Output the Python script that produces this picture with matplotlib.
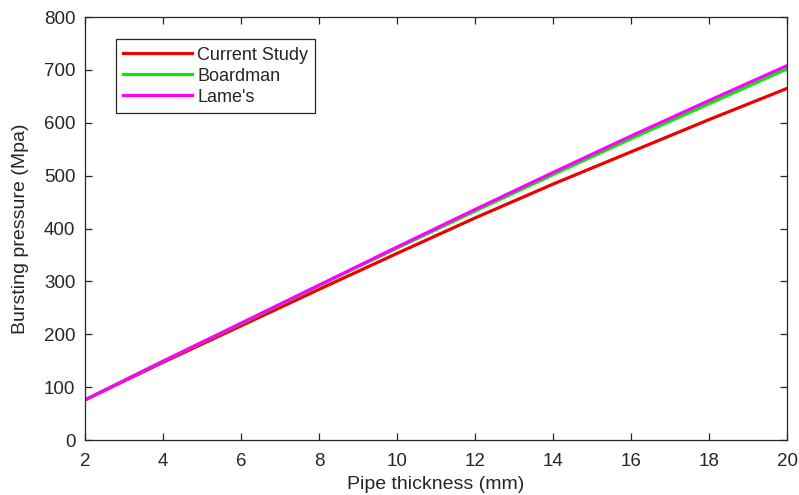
import matplotlib
matplotlib.use("Agg")
import matplotlib.pyplot as plt

plt.rcParams['font.family'] = ['Liberation Sans', 'DejaVu Sans']

# pipe wall thickness (mm)
thickness = [2, 4, 6, 8, 10, 12, 14, 16, 18, 20]

# bursting pressure (MPa) for each method
current_study = [76, 147, 216, 285, 353, 420, 484, 545, 606, 665]
boardman = [76, 149, 220, 292, 363, 433, 502, 570, 636, 702]
lames = [76, 149, 221, 293, 365, 436, 506, 575, 642, 708]

fig = plt.figure(figsize=(7.99, 4.95), dpi=100)
ax = fig.add_axes([0.1064, 0.111, 0.8786, 0.8546])

ax.plot(thickness, current_study, color='#ee0000', lw=2.3, label='Current Study')
ax.plot(thickness, boardman, color='#00ee00', lw=2.3, label='Boardman')
ax.plot(thickness, lames, color='#ff00ff', lw=2.3, label="Lame's")

ax.set_xlim(2, 20)
ax.set_ylim(0, 800)
ax.set_xticks(range(2, 21, 2))
ax.set_yticks(range(0, 801, 100))

dark = '#262626'
for s in ax.spines.values():
    s.set_color(dark)
    s.set_linewidth(0.9)
ax.tick_params(direction='in', top=True, right=True, length=5, width=0.9,
               colors=dark, labelsize=13.5)
ax.tick_params(axis='x', pad=9)
ax.tick_params(axis='y', pad=7)

ax.set_xlabel('Pipe thickness (mm)', fontsize=14, color=dark, labelpad=5)
ax.set_ylabel('Bursting pressure (Mpa)', fontsize=14, color=dark, labelpad=11)

leg = ax.legend(loc='upper left', bbox_to_anchor=(0.044, 0.947), fontsize=13,
                handlelength=3.8, handletextpad=0.3, labelspacing=0.22,
                borderpad=0.4, borderaxespad=0, fancybox=False, framealpha=1)
leg.get_frame().set_edgecolor(dark)
leg.get_frame().set_linewidth(0.9)
for t in leg.get_texts():
    t.set_color(dark)

fig.savefig('out.png', dpi=100)
